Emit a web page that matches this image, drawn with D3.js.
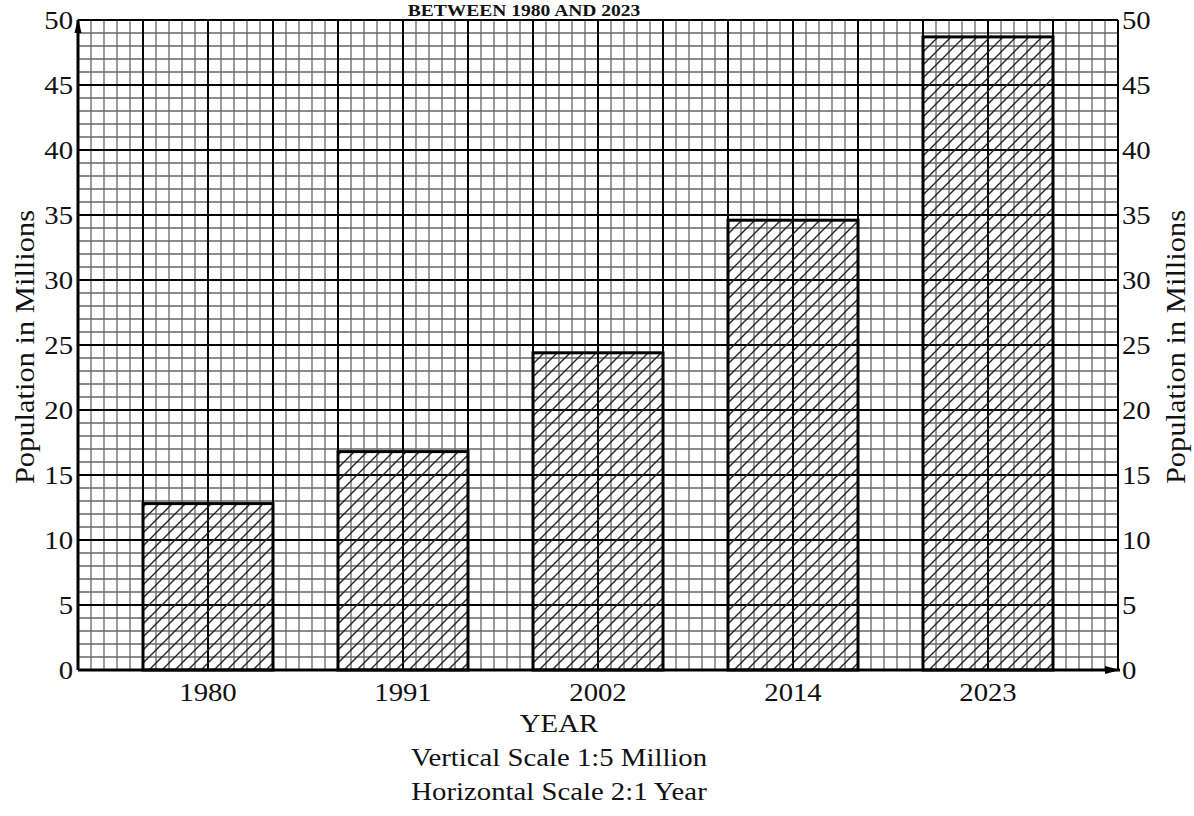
<!DOCTYPE html>
<html>
<head>
<meta charset="utf-8">
<script src="https://cdn.jsdelivr.net/npm/d3@7"></script>
<style>
  body { margin: 0; background: #fff; }
  text { font-family: "Liberation Serif", "Times New Roman", serif; fill: #111; }
</style>
</head>
<body>
<div id="root"></div>
<script>
const years = ["1980", "1991", "2002", "2014", "2023"];
const population = [12.8, 16.8, 24.4, 34.6, 48.7];
const yTicks = [0, 5, 10, 15, 20, 25, 30, 35, 40, 45, 50];
const titleText = "BETWEEN 1980 AND 2023";
const xTitle = "YEAR";
const yTitle = "Population in Millions";
const notes = ["Vertical Scale 1:5 Million", "Horizontal Scale 2:1 Year"];

const width = 1194, height = 816;
const margin = {top: 20, right: 76, bottom: 146, left: 78};
const stretch = 1.15;

const svg = d3.select('#root').append('svg')
  .attr('width', width).attr('height', height);

// scales
const x = d3.scaleBand().domain(years)
  .range([margin.left, width - margin.right])
  .paddingInner(1/3).paddingOuter(1/3);
const gx = d3.scaleLinear().domain([0, 80]).range([margin.left, width - margin.right]);
const y = d3.scaleLinear().domain([0, 50]).range([height - margin.bottom, margin.top]);

// hatch pattern
const defs = svg.append('defs');
defs.append('pattern')
  .attr('id', 'hatch').attr('patternUnits', 'userSpaceOnUse')
  .attr('width', 13).attr('height', 13)
  .append('path')
  .attr('d', 'M-3,16 L16,-3 M-3,3 L3,-3 M10,16 L16,10')
  .attr('stroke', '#222').attr('stroke-width', 1.4);

// graph-paper grid
const grid = svg.append('g');
const minorX = d3.range(0, 81).filter(d => d % 5 !== 0);
const minorY = d3.range(0, 51).filter(d => d % 5 !== 0);
grid.selectAll('.vminor').data(minorX).enter().append('line')
  .attr('x1', d => gx(d)).attr('x2', d => gx(d))
  .attr('y1', y(0)).attr('y2', y(50))
  .attr('stroke', '#666').attr('stroke-width', 1.3);
grid.selectAll('.hminor').data(minorY).enter().append('line')
  .attr('y1', d => y(d)).attr('y2', d => y(d))
  .attr('x1', gx(0)).attr('x2', gx(80))
  .attr('stroke', '#666').attr('stroke-width', 1.3);
grid.selectAll('.vmajor').data(d3.range(0, 81, 5)).enter().append('line')
  .attr('x1', d => gx(d)).attr('x2', d => gx(d))
  .attr('y1', y(0)).attr('y2', y(50))
  .attr('stroke', '#000').attr('stroke-width', 2);
grid.selectAll('.hmajor').data(yTicks).enter().append('line')
  .attr('y1', d => y(d)).attr('y2', d => y(d))
  .attr('x1', gx(0)).attr('x2', gx(80))
  .attr('stroke', '#000').attr('stroke-width', 2);

// bars
svg.selectAll('.bar').data(years).enter().append('rect')
  .attr('x', d => x(d))
  .attr('y', (d, i) => y(population[i]))
  .attr('width', x.bandwidth())
  .attr('height', (d, i) => y(0) - y(population[i]))
  .attr('fill', 'url(#hatch)')
  .attr('stroke', '#000').attr('stroke-width', 3);

// axes lines
svg.append('line').attr('x1', gx(0)).attr('x2', gx(0)).attr('y1', y(0)).attr('y2', y(50))
  .attr('stroke', '#000').attr('stroke-width', 3);
svg.append('line').attr('x1', gx(0)).attr('x2', gx(80) + 2).attr('y1', y(0)).attr('y2', y(0))
  .attr('stroke', '#000').attr('stroke-width', 3);
svg.append('path')
  .attr('d', `M${gx(0)},${y(50) - 2} L${gx(0) - 3.5},${y(50) + 13} L${gx(0) + 3.5},${y(50) + 13} Z`)
  .attr('fill', '#000');
svg.append('path')
  .attr('d', `M${gx(80) + 2},${y(0)} L${gx(80) - 13},${y(0) - 4} L${gx(80) - 13},${y(0) + 4} Z`)
  .attr('fill', '#000');

const sText = (sel, tx, ty, rot) => sel.attr('transform',
  `translate(${tx},${ty})${rot ? ` rotate(${rot})` : ''} scale(${stretch},1)`);

// y tick labels, both sides
svg.selectAll('.yl').data(yTicks).enter().append('text')
  .attr('text-anchor', 'end').attr('font-size', 25).attr('dy', '0.35em')
  .each(function(d) { sText(d3.select(this), gx(0) - 5, y(d)); })
  .text(d => d);
svg.selectAll('.yr').data(yTicks).enter().append('text')
  .attr('text-anchor', 'start').attr('font-size', 25).attr('dy', '0.35em')
  .each(function(d) { sText(d3.select(this), gx(80) + 4, y(d)); })
  .text(d => d);

// x tick labels
svg.selectAll('.xl').data(years).enter().append('text')
  .attr('text-anchor', 'middle').attr('font-size', 25)
  .each(function(d) { sText(d3.select(this), x(d) + x.bandwidth() / 2, 701); })
  .text(d => d);

// titles
sText(svg.append('text').attr('text-anchor', 'middle').attr('font-size', 25), 559, 732).text(xTitle);
notes.forEach((t, i) => {
  sText(svg.append('text').attr('text-anchor', 'middle').attr('font-size', 25), 559, 766 + i * 34).text(t);
});
sText(svg.append('text').attr('text-anchor', 'middle').attr('font-size', 17).attr('font-weight', 'bold'), 524, 16).text(titleText);

sText(svg.append('text').attr('text-anchor', 'middle').attr('font-size', 26.5), 34, 347, -90).text(yTitle);
sText(svg.append('text').attr('text-anchor', 'middle').attr('font-size', 26.5), 1185, 347, -90).text(yTitle);
</script>
</body>
</html>
